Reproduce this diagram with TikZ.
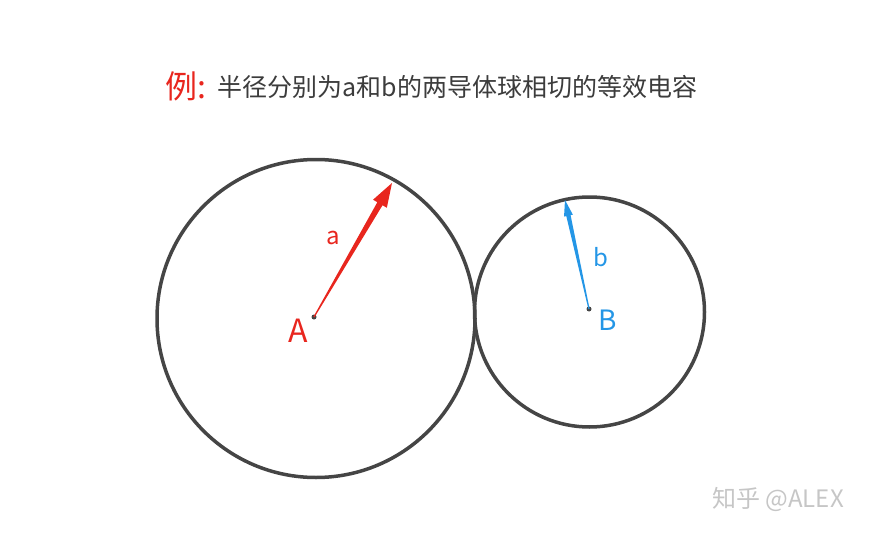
\documentclass[tikz,border=0pt]{standalone}
\usepackage{fontspec}
\setmainfont{Noto Sans CJK SC}
\usetikzlibrary{calc}
\usetikzlibrary{positioning}

\definecolor{ballgray}{HTML}{454545}
\definecolor{exred}{HTML}{E8261E}
\definecolor{exblue}{HTML}{2496E6}
\definecolor{txtgray}{HTML}{3C3C3C}

% tapered radius arrow: from, to, colour, head length, head half width, shaft half width
\newcommand{\taper}[6]{%
  \coordinate (h) at ($(#2)!#4!(#1)$);
  \fill[#3] ($(#1)!0.6pt!90:(#2)$) -- ($(h)!#6!90:(#2)$) -- ($(h)!#5!90:(#2)$)
    -- (#2) -- ($(h)!#5!-90:(#2)$) -- ($(h)!#6!-90:(#2)$) -- ($(#1)!0.6pt!-90:(#2)$) -- cycle;
}

\tikzset{ball/.style={draw=ballgray,line width=3.5pt},
  centre/.style={circle,fill=ballgray,inner sep=0pt,minimum size=5pt}}

\begin{document}
\begin{tikzpicture}[x=1pt,y=-1pt]
\useasboundingbox (0,0) rectangle (873,535);

% title
\node[text=exred,font=\fontsize{32}{36}\selectfont,anchor=east] (ex) at (210,86) {例:};
\node[text=txtgray,font=\fontsize{25}{30}\selectfont,anchor=west] (title) at (214,87) {半径分别为a和b的两导体球相切的等效电容};

% the two balls
\draw[ball] (316,318.5) circle (159);
\draw[ball] (589.5,312) circle (115);

\node[centre] (A) at (314,317) {};
\node[centre] (B) at (589,309) {};
\coordinate (tipA) at (392,183);
\coordinate (tipB) at (565,200);

\taper{A}{tipA}{exred}{24pt}{8pt}{3pt}
\taper{B}{tipB}{exblue}{16pt}{4.5pt}{2.2pt}

\node[text=exred,font=\fontsize{32}{36}\selectfont] (labA) at (298,331) {A};
\node[text=exred,font=\fontsize{24}{28}\selectfont] (laba) at (333,238) {a};
\node[text=exblue,font=\fontsize{28}{32}\selectfont] (labB) at (608,320) {B};
\node[text=exblue,font=\fontsize{24}{28}\selectfont] (labb) at (601,257) {b};

% watermark
\node[text=gray!45,font=\fontsize{24}{28}\selectfont] (mark) at (778,499) {知乎 @ALEX};
\end{tikzpicture}
\end{document}
